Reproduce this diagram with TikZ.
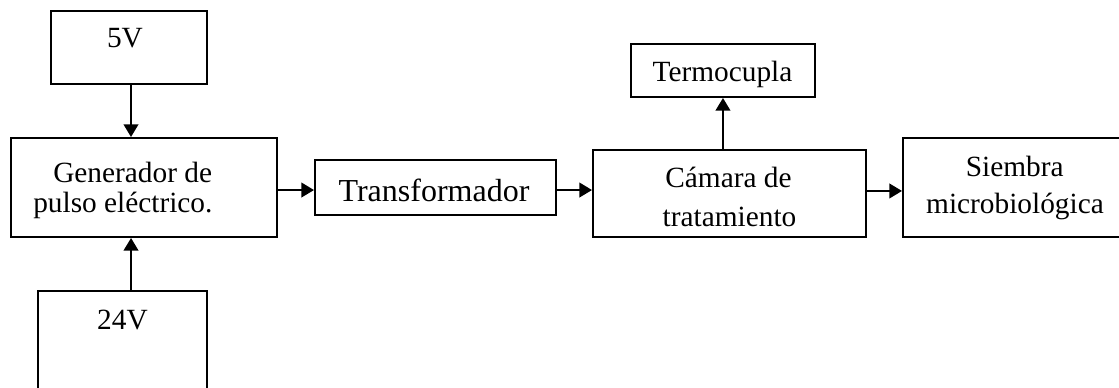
\documentclass[tikz,border=0pt]{standalone}
\usepackage{fontspec}
\setmainfont{Liberation Serif}
\usetikzlibrary{arrows.meta}
\begin{document}
\begin{tikzpicture}[x=0.75pt,y=-0.75pt,
  box/.style={draw,line width=1.5pt,inner sep=0pt,rectangle},
  txt/.style={inner sep=0pt,anchor=base,font=\fontsize{22pt}{26pt}\selectfont},
  arr/.style={line width=1.5pt,-{Triangle[length=9.5pt,width=11pt]}}]
\useasboundingbox (0,0) rectangle (1119,388);
\clip (0,0) rectangle (1119,388);
% blocks
\node[box,minimum width=117pt,minimum height=54.75pt] (v5) at (129,47.5) {};
\node[box,minimum width=199.5pt,minimum height=74.25pt] (gen) at (144,187.5) {};
\node[box,minimum width=126.75pt,minimum height=96.75pt] (v24) at (122.5,355.5) {};
\node[box,minimum width=180.75pt,minimum height=41.25pt] (trans) at (435.5,187.5) {};
\node[box,minimum width=204.75pt,minimum height=65.25pt] (cam) at (729.5,193.5) {};
\node[box,minimum width=138pt,minimum height=39.75pt] (termo) at (723,70.5) {};
\node[box,minimum width=177.75pt,minimum height=74.25pt] (siem) at (1021.5,187.5) {};
% labels
\node[txt] (l5) at (125,48) {5V};
\node[txt] (l24) at (122.5,329) {24V};
\node[txt,anchor=base west] (lgen1) at (53,183) {Generador de};
\node[txt,anchor=base west] (lgen2) at (33,213) {pulso eléctrico.};
\node[txt,font=\fontsize{24pt}{28pt}\selectfont] (ltrans) at (434,202) {Transformador};
\node[txt] (lcam1) at (728.5,188) {Cámara de};
\node[txt] (lcam2) at (729.5,227) {tratamiento};
\node[txt] (ltermo) at (722.5,82) {Termocupla};
\node[txt] (lsiem1) at (1014.7,177) {Siembra};
\node[txt] (lsiem2) at (1015,214) {microbiológica};
% connectors
\draw[arr] ([xshift=1.5pt]v5.south) -- ([xshift=1.5pt]v5.south |- gen.north);
\draw[arr] ([xshift=6.4pt]v24.north) -- ([xshift=6.4pt]v24.north |- gen.south);
\draw[arr] ([yshift=-1.9pt]gen.east) -- ([yshift=-1.9pt]gen.east -| trans.west);
\draw[arr] ([yshift=-1.9pt]trans.east) -- ([yshift=-1.9pt]trans.east -| cam.west);
\draw[arr] ([xshift=-4.9pt]cam.north) -- ([xshift=-4.9pt]cam.north |- termo.south);
\draw[arr] ([yshift=1.9pt]cam.east) -- ([yshift=1.9pt]cam.east -| siem.west);
\end{tikzpicture}
\end{document}
